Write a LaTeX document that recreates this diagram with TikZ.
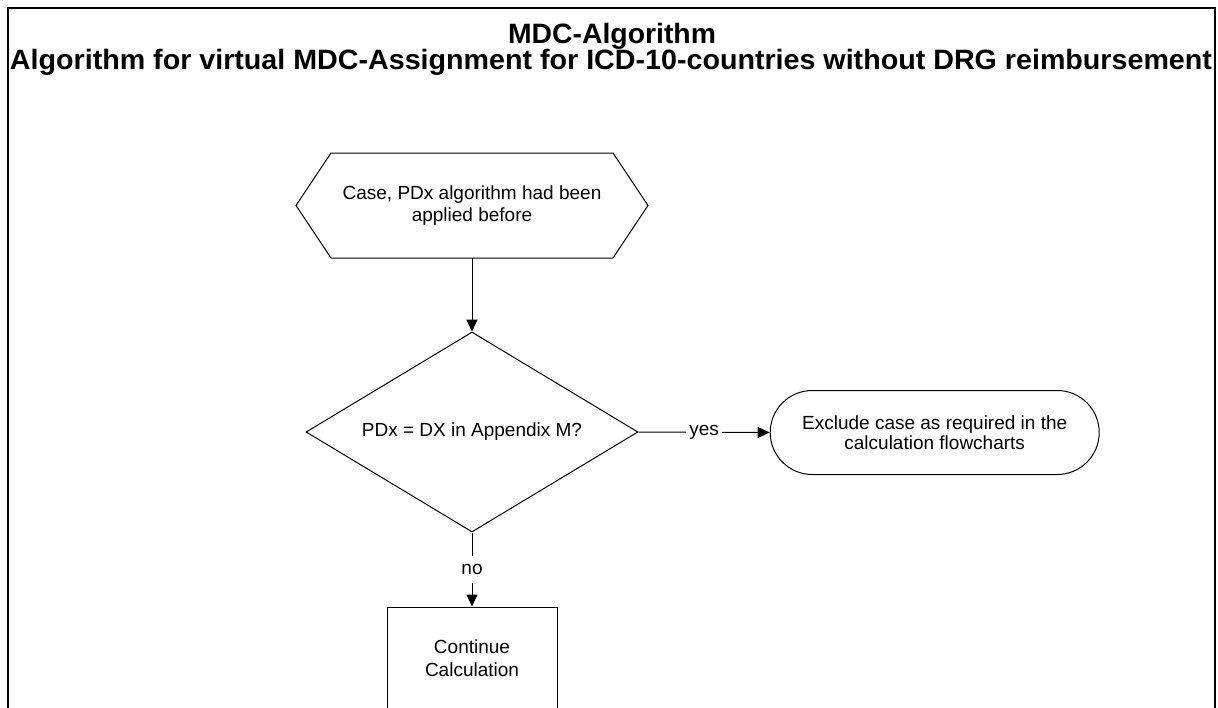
\documentclass[tikz,border=0pt]{standalone}
\usepackage{fontspec}
\setmainfont{Liberation Sans}
\usetikzlibrary{shapes.geometric,arrows.meta}
\begin{document}
\begin{tikzpicture}[x=1pt,y=-1pt,
  every node/.style={font=\fontsize{19}{21.5}\selectfont},
  shapeline/.style={draw=black,line width=1pt},
  conn/.style={line width=1pt,-{Triangle[length=12pt,width=11pt]}},
  lbl/.style={fill=white,inner xsep=3pt,inner ysep=8pt},
  titlefont/.style={font=\fontsize{28}{32}\selectfont\bfseries}]
\useasboundingbox (0,0) rectangle (1218,707);
\clip (0,0) rectangle (1218,707);
% frame
\draw[line width=2pt] (7.5,712) -- (7.5,7.5) -- (1215,7.5) -- (1215,712);
% title
\node[titlefont,anchor=base,inner sep=0pt] (t1) at (612,43) {\resizebox{208pt}{\height}{MDC-Algorithm}};
\node[titlefont,anchor=base,inner sep=0pt] (t2) at (611,69) {\resizebox{1202pt}{\height}{Algorithm for virtual MDC-Assignment for ICD-10-countries without DRG reimbursement}};
% start hexagon
\draw[shapeline] (296,205.5) -- (331,153) -- (613,153) -- (648,205.5) -- (613,258) -- (331,258) -- cycle;
\node[minimum width=352pt,minimum height=105pt,align=center] (hex) at (472,205.5) {Case, PDx algorithm had been\\applied before};
% decision
\node[shapeline,diamond,aspect=1.66,inner sep=0pt,minimum width=332pt,minimum height=200pt] (dec) at (472,432) {PDx = DX in Appendix M?};
% terminal
\node[shapeline,rounded corners=42pt,minimum width=329pt,minimum height=84pt,align=center,font=\fontsize{19}{20}\selectfont] (term) at (934.7,432.5) {Exclude case as required in the\\calculation flowcharts};
% process
\node[shapeline,minimum width=170pt,minimum height=103pt,align=center,font=\fontsize{19}{23}\selectfont] (cont) at (472,658.5) {Continue\\Calculation};
% connectors
\draw[conn] (hex.south) -- (dec.north);
\draw[conn] (dec.east) -- node[lbl] (yes) {yes} (term.west);
\draw[conn] (dec.south) -- node[lbl] (no) {no} (cont.north);
\end{tikzpicture}
\end{document}
